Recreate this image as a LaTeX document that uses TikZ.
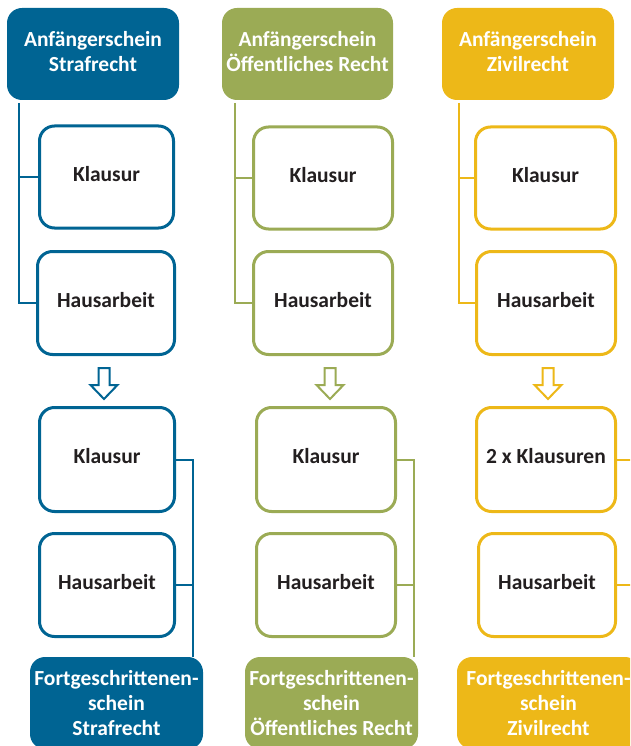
\documentclass[tikz,border=0pt]{standalone}
\usepackage{fontspec}
\setmainfont{Carlito}
\definecolor{cblue}{HTML}{006493}
\definecolor{cgreen}{HTML}{9BAB55}
\definecolor{cyellow}{HTML}{EDB818}
\definecolor{ctext}{HTML}{231F20}
\tikzset{
  hdr/.style={rectangle, rounded corners=15pt, fill=#1, draw=none, text=white,
    font=\bfseries\fontsize{21.5}{25}\selectfont, align=center, inner sep=0pt, text depth=6pt},
  fort/.style={rectangle, rounded corners=15pt, fill=#1, draw=none, text=white,
    font=\bfseries\fontsize{21.5}{25}\selectfont, align=center, inner sep=0pt},
  task/.style={rectangle, rounded corners=15pt, draw=#1, line width=3pt, fill=white,
    text=ctext, font=\bfseries\fontsize{21.5}{25}\selectfont, align=center, inner sep=0pt, text depth=7pt},
  conn/.style={draw=#1, line width=2pt},
  bigarrow/.style={draw=#1, line width=2pt, fill=white, line join=miter},
}
\begin{document}
\begin{tikzpicture}[x=1pt,y=-1pt]
\useasboundingbox (0,0) rectangle (630,746);
\clip (0,0) rectangle (630,746);
% ---------------- Column 1 (blue)
\node[hdr=cblue, minimum width=172pt, minimum height=92pt] (A1) at (93,54) {Anfängerschein\\Strafrecht};
\node[task=cblue, minimum width=134pt, minimum height=102pt] (K1) at (106.5,177) {Klausur};
\node[task=cblue, minimum width=137pt, minimum height=103pt] (H1) at (106,303) {Hausarbeit};
\node[task=cblue, minimum width=135pt, minimum height=104pt] (KK1) at (107,459.5) {Klausur};
\node[task=cblue, minimum width=135pt, minimum height=103pt] (HH1) at (107,585) {Hausarbeit};
\node[fort=cblue, minimum width=173pt, minimum height=92pt] (F1) at (116.5,703) {Fortgeschrittenen-\\schein\\Strafrecht};
\coordinate (t1) at (19,103);
\coordinate (b1) at (193,657);
\draw[conn=cblue] (t1) |- (H1.west);
\draw[conn=cblue] (t1 |- K1.west) -- (K1.west);
\draw[conn=cblue] (KK1.east) -| (b1);
\draw[conn=cblue] (HH1.east) -- (HH1.east -| b1);
\draw[bigarrow=cblue] (104,368) ++(-5.5,0) -- ++(0,17) -- ++(-8,0) -- ++(13.5,14) -- ++(13.5,-14) -- ++(-8,0) -- ++(0,-17) -- cycle;
% ---------------- Column 2 (green)
\node[hdr=cgreen, minimum width=171pt, minimum height=92pt] (A2) at (307.5,54) {Anfängerschein\\Öffentliches Recht};
\node[task=cgreen, minimum width=139pt, minimum height=102pt] (K2) at (323,178) {Klausur};
\node[task=cgreen, minimum width=139pt, minimum height=103pt] (H2) at (323,303) {Hausarbeit};
\node[task=cgreen, minimum width=139pt, minimum height=104pt] (KK2) at (326,459.5) {Klausur};
\node[task=cgreen, minimum width=139pt, minimum height=103pt] (HH2) at (326,585) {Hausarbeit};
\node[fort=cgreen, minimum width=173pt, minimum height=92pt] (F2) at (331.5,703) {Fortgeschrittenen-\\schein\\Öffentliches Recht};
\coordinate (t2) at (235,103);
\coordinate (b2) at (414,657);
\draw[conn=cgreen] (t2) |- (H2.west);
\draw[conn=cgreen] (t2 |- K2.west) -- (K2.west);
\draw[conn=cgreen] (KK2.east) -| (b2);
\draw[conn=cgreen] (HH2.east) -- (HH2.east -| b2);
\draw[bigarrow=cgreen] (330,368) ++(-5.5,0) -- ++(0,17) -- ++(-8,0) -- ++(13.5,14) -- ++(13.5,-14) -- ++(-8,0) -- ++(0,-17) -- cycle;
% ---------------- Column 3 (yellow)
\node[hdr=cyellow, minimum width=172pt, minimum height=92pt] (A3) at (528,54) {Anfängerschein\\Zivilrecht};
\node[task=cyellow, minimum width=140pt, minimum height=102pt] (K3) at (545.5,178) {Klausur};
\node[task=cyellow, minimum width=139pt, minimum height=103pt] (H3) at (546,303) {Hausarbeit};
\node[task=cyellow, minimum width=139pt, minimum height=104pt] (KK3) at (546,459.5) {2 x Klausuren};
\node[task=cyellow, minimum width=137pt, minimum height=103pt] (HH3) at (547,585) {Hausarbeit};
\node[fort=cyellow, minimum width=183pt, minimum height=92pt] (F3) at (548.5,703) {Fortgeschrittenen-\\schein\\Zivilrecht};
\coordinate (t3) at (459,103);
\coordinate (b3) at (640,657);
\draw[conn=cyellow] (t3) |- (H3.west);
\draw[conn=cyellow] (t3 |- K3.west) -- (K3.west);
\draw[conn=cyellow] (KK3.east) -| (b3);
\draw[conn=cyellow] (HH3.east) -- (HH3.east -| b3);
\draw[bigarrow=cyellow] (548,368) ++(-5.5,0) -- ++(0,17) -- ++(-8,0) -- ++(13.5,14) -- ++(13.5,-14) -- ++(-8,0) -- ++(0,-17) -- cycle;
\end{tikzpicture}
\end{document}
